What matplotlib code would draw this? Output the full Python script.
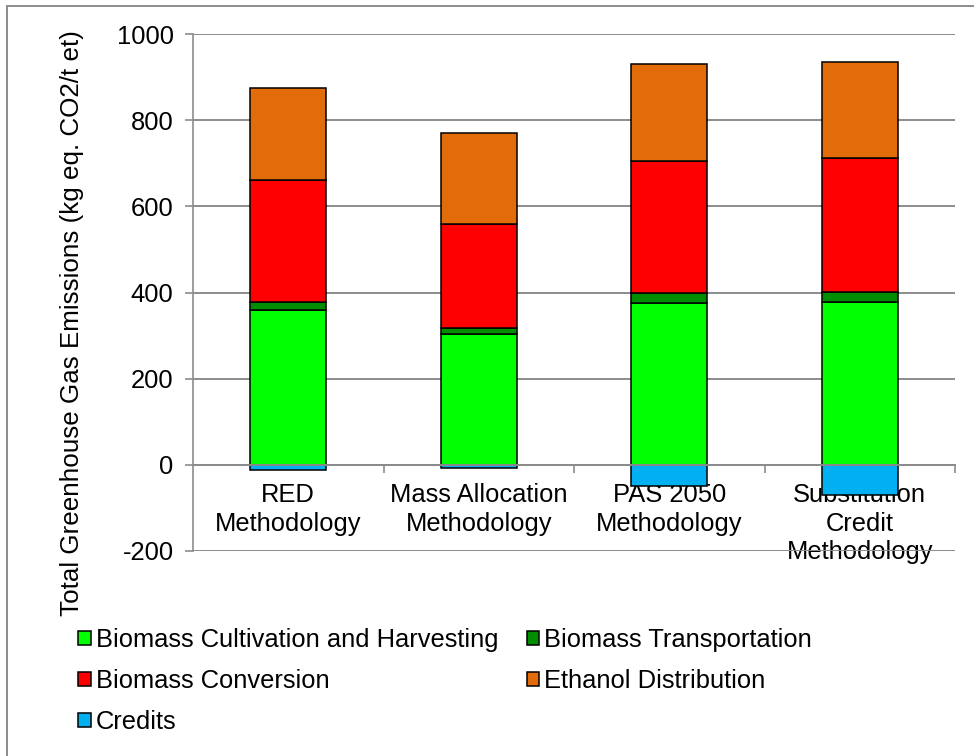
import matplotlib
matplotlib.use("Agg")
import matplotlib.pyplot as plt
from matplotlib.patches import Rectangle
import numpy as np

plt.rcParams['font.family'] = ['Liberation Sans', 'DejaVu Sans']
plt.rcParams['axes.unicode_minus'] = False

# GHG emissions per methodology (kg eq. CO2 / t ethanol)
methods = ["RED\nMethodology", "Mass Allocation\nMethodology",
           "PAS 2050\nMethodology", "Substitution\nCredit\nMethodology"]
cultivation = [360, 303, 375, 378]
transportation = [18, 14, 23, 24]
conversion = [283, 242, 308, 310]
distribution = [213, 212, 224, 224]
credits = [-12, -8, -50, -70]

labels = ["Biomass Cultivation and Harvesting", "Biomass Transportation",
          "Biomass Conversion", "Ethanol Distribution", "Credits"]
colors = ["#00ff00", "#008e00", "#ff0000", "#e36c0a", "#00b0f0"]

fig = plt.figure(figsize=(9.74, 7.56), dpi=100)
ax = fig.add_axes([193 / 974, 1 - 551 / 756, 762 / 974, 517 / 756])

x = np.arange(len(methods))
w = 0.4
edge = dict(edgecolor="black", linewidth=1.1, zorder=3)

bottom = np.zeros(len(methods))
handles = []
for vals, lab, col in zip([cultivation, transportation, conversion, distribution],
                          labels[:4], colors[:4]):
    h = ax.bar(x, vals, w, bottom=bottom, color=col, label=lab, **edge)
    handles.append(h)
    bottom += np.array(vals)
h = ax.bar(x, credits, w, color=colors[4], label=labels[4], **edge)
handles.append(h)

grid_col = "#8c8c8c"
ax.set_ylim(-200, 1000)
ax.set_xlim(-0.5, 3.5)
ax.set_yticks(range(-200, 1001, 200))
ax.yaxis.grid(True, color=grid_col, linewidth=1.4)
ax.set_axisbelow(True)

for s in ["top", "right"]:
    ax.spines[s].set_visible(False)
ax.spines["left"].set_color(grid_col)
ax.spines["left"].set_linewidth(1.2)
ax.spines["bottom"].set_position(("data", 0))
ax.spines["bottom"].set_color(grid_col)
ax.spines["bottom"].set_linewidth(1.4)
ax.spines["bottom"].set_zorder(4)

ax.set_xticks(x)
ax.set_xticklabels(methods, fontsize=18.4, linespacing=1.25)
ax.set_xticks(x + 0.5, minor=True)
ax.tick_params(axis="x", which="major", length=0, pad=13)
ax.tick_params(axis="x", which="minor", length=6, color=grid_col, width=1.2, direction="out")
ax.tick_params(axis="y", length=6, color=grid_col, width=1.2, labelsize=18.4, pad=8)

ax.set_ylabel("Total Greenhouse Gas Emissions (kg eq. CO2/t et)", fontsize=18.7)
ax.yaxis.set_label_coords(-0.143, 0.44)

order = [0, 2, 4, 1, 3]
fig.legend([handles[i] for i in order], [labels[i] for i in order],
           loc="upper left", bbox_to_anchor=(78 / 974, 1 - 628 / 756),
           ncol=2, frameon=False, fontsize=18.4,
           handlelength=0.5, handleheight=0.5, handletextpad=0.2,
           columnspacing=1.1, labelspacing=0.67, borderaxespad=0, borderpad=0)

# outer chart border
fig.patches.append(Rectangle((7 / 974, -0.1), 1.2, 1.1 - 6 / 756,
                             transform=fig.transFigure, fill=False,
                             edgecolor="#8c8c8c", linewidth=1.4))

fig.savefig("out.png", dpi=100)
